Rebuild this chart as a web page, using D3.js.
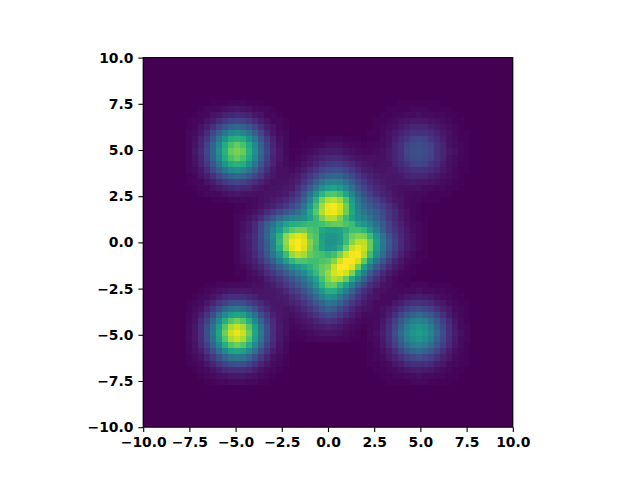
<!DOCTYPE html>
<html><head><meta charset="utf-8">
<style>html,body{margin:0;padding:0;background:#fff}svg{display:block}
text{font-family:"DejaVu Sans";font-weight:bold;font-size:13.9px;fill:#000}</style>
<script src="https://cdn.jsdelivr.net/npm/d3@7"></script></head><body>
<script>
const tickValues=[-10,-7.5,-5,-2.5,0,2.5,5,7.5,10];
const gridSize=61;
// Values in percent of the colour range; rows run top to bottom.
const blobTopLeft=[
[0,0,0,0,1,1,1,2,2,2,1,1,1,0,0,0,0],
[0,0,1,2,2,3,4,5,6,5,4,3,2,2,1,0,0],
[0,1,2,2,5,6,9,10,11,10,9,6,5,2,2,1,0],
[1,2,2,5,8,12,16,19,20,19,16,12,8,5,2,2,1],
[1,2,5,8,14,20,26,31,33,31,26,20,14,8,5,2,1],
[2,3,6,12,20,30,39,46,49,46,39,30,20,12,6,3,2],
[2,4,9,16,26,39,51,61,64,61,51,39,26,16,9,4,2],
[2,5,10,19,31,46,61,71,76,71,61,46,31,19,10,5,2],
[2,6,11,20,33,49,64,76,80,76,64,49,33,20,11,6,2],
[2,5,10,19,31,46,61,71,76,71,61,46,31,19,10,5,2],
[2,4,9,16,26,39,51,61,64,61,51,39,26,16,9,4,2],
[2,3,6,12,20,30,39,46,49,46,39,30,20,12,6,3,2],
[1,2,5,8,14,20,26,31,33,31,26,20,14,8,5,2,1],
[1,2,2,5,8,12,16,19,20,19,16,12,8,5,2,2,1],
[0,1,2,2,5,6,9,10,11,10,9,6,5,2,2,1,0],
[0,0,1,2,2,3,4,5,6,5,4,3,2,2,1,0,0],
[0,0,0,0,1,1,1,2,2,2,1,1,1,0,0,0,0]];
const blobTopRight=[
[0,0,0,0,0,1,1,1,1,1,1,1,0,0,0,0,0],
[0,0,0,1,1,1,1,2,2,2,1,1,1,1,0,0,0],
[0,0,1,1,2,2,3,3,4,3,3,2,2,1,1,0,0],
[0,1,1,2,3,4,5,6,6,6,5,4,3,2,1,1,0],
[0,1,2,3,4,6,8,10,10,10,8,6,4,3,2,1,0],
[1,1,2,4,6,9,12,14,14,14,12,9,6,4,2,1,1],
[1,1,3,4,8,12,15,19,20,19,15,12,8,4,3,1,1],
[1,2,3,5,10,14,19,22,23,22,19,14,10,5,3,2,1],
[1,2,4,6,10,14,20,23,24,23,20,14,10,6,4,2,1],
[1,2,3,5,10,14,19,22,23,22,19,14,10,5,3,2,1],
[1,1,3,4,8,12,15,19,20,19,15,12,8,4,3,1,1],
[1,1,2,4,6,9,12,14,14,14,12,9,6,4,2,1,1],
[0,1,2,3,4,6,8,10,10,10,8,6,4,3,2,1,0],
[0,1,1,2,3,4,5,6,6,6,5,4,3,2,1,1,0],
[0,0,1,1,2,2,3,3,4,3,3,2,2,1,1,0,0],
[0,0,0,1,1,1,1,2,2,2,1,1,1,1,0,0,0],
[0,0,0,0,0,1,1,1,1,1,1,1,0,0,0,0,0]];
const blobBottomRight=[
[0,0,0,1,1,1,1,2,2,2,1,1,1,1,0,0,0],
[0,0,1,1,2,2,3,3,4,3,3,2,2,1,1,0,0],
[0,1,1,2,3,4,6,7,8,7,6,4,3,2,1,1,0],
[1,1,2,3,6,8,11,13,14,13,11,8,6,3,2,1,1],
[1,2,3,6,9,14,18,21,23,21,18,14,9,6,3,2,1],
[1,2,4,8,14,20,27,31,34,31,27,20,14,8,4,2,1],
[1,3,6,11,18,27,35,42,44,42,35,27,18,11,6,3,1],
[2,3,7,13,21,31,42,49,52,49,42,31,21,13,7,3,2],
[2,4,8,14,23,34,44,52,55,52,44,34,23,14,8,4,2],
[2,3,7,13,21,31,42,49,52,49,42,31,21,13,7,3,2],
[1,3,6,11,18,27,35,42,44,42,35,27,18,11,6,3,1],
[1,2,4,8,14,20,27,31,34,31,27,20,14,8,4,2,1],
[1,2,3,6,9,14,18,21,23,21,18,14,9,6,3,2,1],
[1,1,2,3,6,8,11,13,14,13,11,8,6,3,2,1,1],
[0,1,1,2,3,4,6,7,8,7,6,4,3,2,1,1,0],
[0,0,1,1,2,2,3,3,4,3,3,2,2,1,1,0,0],
[0,0,0,1,1,1,1,2,2,2,1,1,1,1,0,0,0]];
const blobBottomLeft=[
[0,0,0,1,1,2,2,3,3,3,2,2,1,1,0,0,0],
[0,0,1,2,3,4,5,6,6,6,5,4,3,2,1,0,0],
[0,1,2,3,5,8,11,13,13,13,11,8,5,3,2,1,0],
[1,2,3,6,10,15,19,23,24,23,19,15,10,6,3,2,1],
[1,3,5,10,16,24,32,38,40,38,32,24,16,10,5,3,1],
[2,4,8,15,24,36,47,56,59,56,47,36,24,15,8,4,2],
[2,5,11,19,32,47,62,73,78,73,62,47,32,19,11,5,2],
[3,6,13,23,38,56,73,87,92,87,73,56,38,23,13,6,3],
[3,6,13,24,40,59,78,92,97,92,78,59,40,24,13,6,3],
[3,6,13,23,38,56,73,87,92,87,73,56,38,23,13,6,3],
[2,5,11,19,32,47,62,73,78,73,62,47,32,19,11,5,2],
[2,4,8,15,24,36,47,56,59,56,47,36,24,15,8,4,2],
[1,3,5,10,16,24,32,38,40,38,32,24,16,10,5,3,1],
[1,2,3,6,10,15,19,23,24,23,19,15,10,6,3,2,1],
[0,1,2,3,5,8,11,13,13,13,11,8,5,3,2,1,0],
[0,0,1,2,3,4,5,6,6,6,5,4,3,2,1,0,0],
[0,0,0,1,1,2,2,3,3,3,2,2,1,1,0,0,0]];
const blobCentre=[
[0,0,0,0,0, 0,0,0,0,0,0,0,1,1,1,2, 2,2,1,1,1,0,0,0,0,0,0,0,0,0,0,0],
[0,0,0,0,0, 0,0,0,0,0,0,1,1,2,3,4, 4,4,3,2,2,1,1,0,0,0,0,0,0,0,0,0],
[0,0,0,0,0, 0,0,0,0,1,1,2,3,4,6,7, 7,7,5,4,3,2,1,1,0,0,0,0,0,0,0,0],
[0,0,0,0,0, 0,0,1,1,1,2,3,5,7,9,11, 12,11,9,7,5,4,3,2,1,1,0,0,0,0,0,0],
[0,0,0,0,0, 0,1,1,1,2,3,5,7,10,14,16, 17,16,14,11,8,6,4,3,2,1,1,0,0,0,0,0],
[0,0,0,0,0, 1,1,1,2,3,5,7,11,15,20,23, 24,23,20,16,12,8,6,4,3,2,1,1,0,0,0,0],
[0,0,0,0,1, 1,1,2,3,5,7,11,16,22,28,32, 33,32,27,22,16,12,9,6,4,3,2,1,1,0,0,0],
[0,0,0,1,1, 1,2,3,4,6,9,15,21,30,38,44, 45,43,37,29,22,16,12,8,6,4,3,2,1,1,0,0],
[0,0,1,1,1, 2,3,4,6,8,13,20,29,40,51,57, 58,55,47,37,27,20,15,11,8,5,3,2,1,1,0,0],
[0,0,1,1,2, 3,4,6,8,12,17,26,38,52,65,72, 73,69,59,45,33,24,18,14,10,7,4,3,2,1,0,0],
[0,1,1,2,3, 5,7,9,12,16,22,32,46,64,79,88, 90,85,72,55,39,30,24,19,14,9,6,4,2,1,1,0],
[1,1,2,3,5, 7,9,13,17,22,28,39,54,70,86,97, 99,94,78,58,43,34,28,23,18,13,9,5,3,2,1,0],
[1,2,3,5,8, 12,16,21,26,31,36,45,60,74,89,97, 98,92,77,60,46,39,33,28,22,16,11,7,4,2,1,0],
[2,3,5,8,13, 19,26,34,41,45,47,50,58,68,80,88, 88,80,68,57,48,43,38,30,23,16,11,7,4,2,1,1],
[2,4,7,12,20, 30,38,49,58,62,64,66,68,68,70,74, 76,76,72,68,58,52,45,36,28,20,14,9,5,3,2,1],
[2,4,7,12,21, 32,43,55,67,74,78,78,72,70,60,56, 56,58,64,70,70,66,55,42,30,21,15,10,6,3,2,1],
[2,5,9,14,22, 33,47,64,83,92,96,93,76,72,56,52, 52,56,68,78,82,80,68,52,37,25,17,11,7,4,2,1],
[2,5,8,13,20, 30,44,66,84,97,100,96,82,72,58,50, 50,56,68,82,90,90,76,56,40,28,19,12,7,4,2,1],
[2,5,8,13,20, 29,43,62,82,95,100,94,80,70,58,52, 54,62,78,92,97,92,76,55,39,27,18,11,7,4,2,1],
[2,4,7,11,18, 26,38,52,68,84,90,86,76,72,70,66, 70,80,92,98,99,88,69,49,34,23,15,9,5,3,1,1],
[2,4,6,9,15, 22,30,42,55,66,72,72,70,70,72,74, 82,94,100,100,93,75,54,37,25,17,10,6,3,2,1,0],
[1,2,4,7,10, 16,22,30,39,48,53,58,64,70,76,80, 92,100,100,95,78,57,40,27,18,11,7,4,2,1,0,0],
[1,1,3,4,7, 12,16,22,29,36,42,48,58,67,76,84, 93,97,93,80,60,43,29,19,12,7,4,2,1,1,0,0],
[0,1,2,3,4, 8,11,15,21,27,32,38,47,58,71,82, 88,85,76,60,45,31,20,13,8,4,2,1,1,0,0,0],
[0,0,1,2,3, 5,8,11,16,21,26,32,41,52,65,75, 76,67,56,43,31,21,14,9,5,3,1,1,0,0,0,0],
[0,0,1,1,2, 4,5,8,11,16,20,26,33,43,54,63, 62,53,42,31,21,14,9,5,3,2,1,0,0,0,0,0],
[0,0,0,1,1, 3,4,6,8,12,15,20,26,34,43,51, 49,40,31,23,15,10,6,4,2,1,0,0,0,0,0,0],
[0,0,0,0,1, 2,3,4,6,9,11,15,20,26,33,39, 36,30,23,16,11,7,4,2,1,0,0,0,0,0,0,0],
[0,0,0,0,0, 1,2,3,4,6,8,11,15,20,26,30, 27,22,17,11,7,5,3,1,1,0,0,0,0,0,0,0],
[0,0,0,0,0, 1,1,2,3,4,6,8,11,15,19,22, 20,16,11,8,5,3,2,1,0,0,0,0,0,0,0,0],
[0,0,0,0,0, 0,1,1,2,3,4,6,7,10,13,15, 14,10,7,5,3,2,1,0,0,0,0,0,0,0,0,0],
[0,0,0,0,0, 0,0,1,1,2,3,4,5,7,8,9, 8,6,4,3,2,1,0,0,0,0,0,0,0,0,0,0],
[0,0,0,0,0, 0,0,0,1,1,2,2,3,4,5,5, 5,4,3,2,1,0,0,0,0,0,0,0,0,0,0,0],
[0,0,0,0,0, 0,0,0,0,1,1,1,2,2,3,3, 3,2,2,1,1,0,0,0,0,0,0,0,0,0,0,0]];
// Where each block sits in the 61x61 grid: first column, and row counted from the bottom of its top line.
const blockList=[[blobTopLeft,7,53],[blobTopRight,37,53],[blobBottomRight,37,23],[blobBottomLeft,7,23],[blobCentre,15,47]];

const grid=d3.range(gridSize).map(()=>new Array(gridSize).fill(0));
blockList.forEach(([m,c0,r0])=>m.forEach((row,i)=>row.forEach((v,j)=>{grid[r0-i][c0+j]+=v;})));
const cells=[];
grid.forEach((row,r)=>row.forEach((v,c)=>cells.push({r,c,v})));

const L=143.2,R=512.8,T=57.6,B=427.2;
const x=d3.scaleLinear().domain([-10,10]).range([L,R]);
const y=d3.scaleLinear().domain([-10,10]).range([B,T]);
const cx=d3.scaleBand().domain(d3.range(gridSize)).range([L,R]);
const cy=d3.scaleBand().domain(d3.range(gridSize)).range([B,T]);
const colour=d3.scaleSequential(d3.interpolateViridis).domain([0,100]);

const svg=d3.select("body").append("svg").attr("width",640).attr("height",480);
svg.append("g").attr("shape-rendering","crispEdges").selectAll("rect").data(cells).join("rect")
 .attr("x",d=>cx(d.c)).attr("y",d=>cy(d.r)).attr("width",cx.bandwidth()).attr("height",cy.bandwidth())
 .attr("fill",d=>colour(Math.min(100,d.v)));
const fmt=d3.format(".1f");
const gx=svg.append("g").attr("transform",`translate(0,${B})`)
 .call(d3.axisBottom(x).tickValues(tickValues).tickFormat(fmt).tickSize(4.86).tickSizeOuter(0).tickPadding(4.9));
const gy=svg.append("g").attr("transform",`translate(${L},0)`)
 .call(d3.axisLeft(y).tickValues(tickValues).tickFormat(fmt).tickSize(4.86).tickSizeOuter(0).tickPadding(4.9));
[gx,gy].forEach(g=>{g.attr("font-family",null).attr("font-size",null);g.select(".domain").remove();
 g.selectAll("line").attr("stroke","#000").attr("stroke-width",1.1);});
svg.append("rect").attr("x",L).attr("y",T).attr("width",R-L).attr("height",B-T)
 .attr("fill","none").attr("stroke","#000").attr("stroke-width",1.1);
</script></body></html>
